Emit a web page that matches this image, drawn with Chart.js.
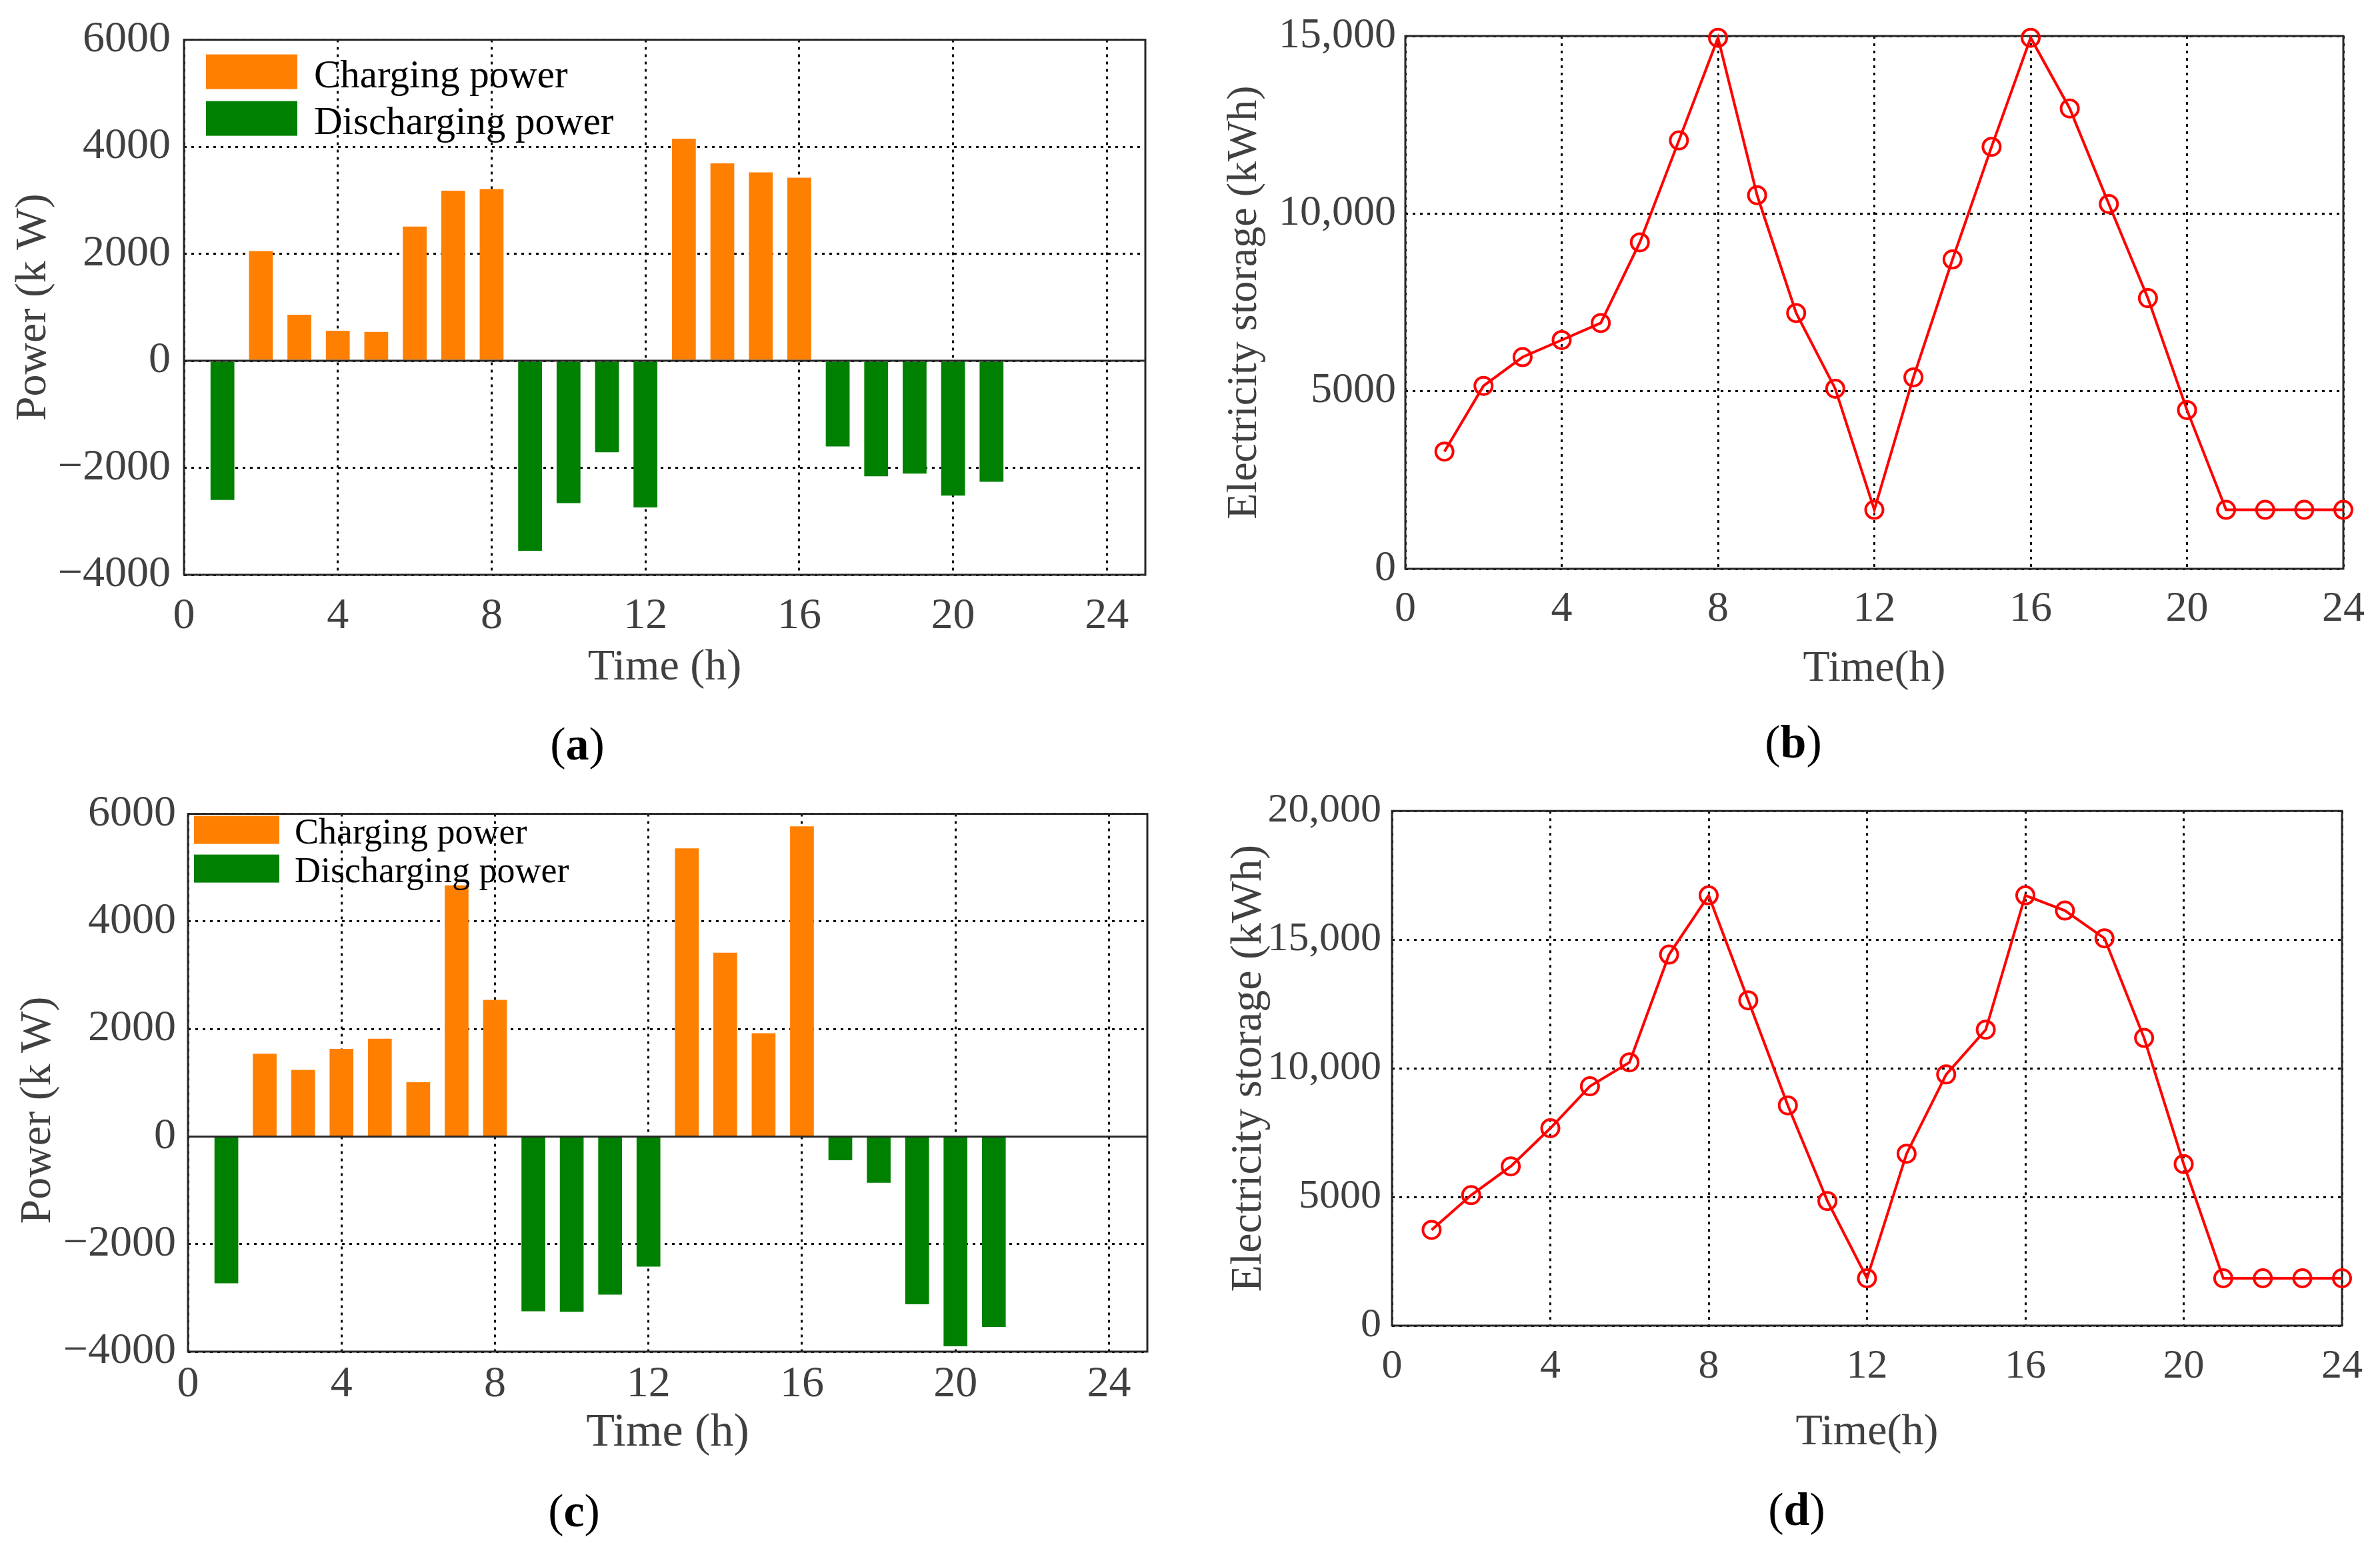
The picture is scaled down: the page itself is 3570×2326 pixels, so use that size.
<!DOCTYPE html>
<html lang="en">
<head>
  <meta charset="UTF-8" />
  <title>Charging / discharging power and electricity storage</title>
  <script src="https://cdn.jsdelivr.net/npm/chart.js"></script>
  <style>
    html, body { margin: 0; padding: 0; background: #fff; }
    body { width: 3570px; height: 2326px; position: relative; overflow: hidden; }
    .panel { position: absolute; width: 1785px; height: 1163px; }
    .caption {
      position: absolute;
      font-family: 'Liberation Serif', 'Times New Roman', serif;
      font-size: 70px;
      color: #000;
      transform: translate(-50%, -50%);
      white-space: nowrap;
    }
  </style>
</head>
<body>
<div class="panel" style="left:0;top:0"><canvas id="chartA"></canvas></div>
<div class="panel" style="left:1785px;top:0"><canvas id="chartB"></canvas></div>
<div class="panel" style="left:0;top:1163px"><canvas id="chartC"></canvas></div>
<div class="panel" style="left:1785px;top:1163px"><canvas id="chartD"></canvas></div>

<div class="caption" style="left:866px;top:1116px">(<b>a</b>)</div>
<div class="caption" style="left:2690px;top:1113px">(<b>b</b>)</div>
<div class="caption" style="left:861px;top:2266px">(<b>c</b>)</div>
<div class="caption" style="left:2695px;top:2264px">(<b>d</b>)</div>

<script>
  // dados (kW e kWh, hora a hora)
  const hours = [1, 2, 3, 4, 5, 6, 7, 8, 9, 10, 11, 12, 13, 14, 15, 16, 17, 18, 19, 20, 21, 22, 23, 24];
  const hourTicks = [0, 4, 8, 12, 16, 20, 24];
  const hourTickLabels = ['0', '4', '8', '12', '16', '20', '24'];

  const powerTicks = [-4000, -2000, 0, 2000, 4000, 6000];
  const powerTickLabels = ['\u22124000', '\u22122000', '0', '2000', '4000', '6000'];

  const storageTicksB = [0, 5000, 10000, 15000];
  const storageTickLabelsB = ['0', '5000', '10,000', '15,000'];
  const storageTicksD = [0, 5000, 10000, 15000, 20000];
  const storageTickLabelsD = ['0', '5000', '10,000', '15,000', '20,000'];

  const chargingA = [null, 2050, 860, 560, 540, 2510, 3180, 3210, null, null, null, null,
                     4150, 3690, 3520, 3420, null, null, null, null, null, null, null, null];
  const dischargingA = [-2600, null, null, null, null, null, null, null, -3550, -2660, -1710, -2740,
                        null, null, null, null, -1600, -2160, -2110, -2520, -2260, null, null, null];
  const storageB = [3300, 5150, 5960, 6440, 6920, 9190, 12060, 14950, 10520, 7200, 5070, 1660,
                    5390, 8710, 11880, 14950, 12960, 10270, 7620, 4470, 1660, 1660, 1660, 1660];

  const chargingC = [null, 1540, 1240, 1630, 1820, 1010, 4670, 2540, null, null, null, null,
                     5360, 3420, 1920, 5770, null, null, null, null, null, null, null, null];
  const dischargingC = [-2730, null, null, null, null, null, null, null, -3250, -3260, -2940, -2420,
                        null, null, null, null, -440, -860, -3120, -3900, -3540, null, null, null];
  const storageD = [3720, 5070, 6190, 7670, 9300, 10230, 14420, 16720, 12640, 8560, 4840, 1840,
                    6680, 9760, 11500, 16720, 16130, 15050, 11180, 6280, 1840, 1840, 1840, 1840];

  const FONT = "'Liberation Serif', 'Times New Roman', serif";
  const GRAY = '#404040';
  const PANEL_H = 1163;
  const XAXIS_H = 200;

  Chart.defaults.font.family = FONT;
  Chart.defaults.color = GRAY;

  // caixa em volta do gráfico + linha do zero
  const framePlugin = {
    id: 'frame',
    beforeDatasetsDraw(chart) {
      const { ctx, chartArea: a } = chart;
      ctx.save();
      ctx.strokeStyle = '#262626';
      ctx.lineWidth = 3;
      ctx.strokeRect(a.left, a.top, a.right - a.left, a.bottom - a.top);
      ctx.restore();
    },
    afterDatasetsDraw(chart, args, opts) {
      if (!opts.zeroLine) return;
      const { ctx, chartArea: a } = chart;
      const y = chart.scales.y.getPixelForValue(0);
      ctx.save();
      ctx.strokeStyle = '#262626';
      ctx.lineWidth = 3;
      ctx.beginPath();
      ctx.moveTo(a.left, y);
      ctx.lineTo(a.right, y);
      ctx.stroke();
      ctx.restore();
    }
  };

  // legenda dentro da área do gráfico, como no MATLAB
  const boxLegendPlugin = {
    id: 'boxLegend',
    afterDraw(chart, args, o) {
      if (!o.show) return;
      const { ctx, chartArea: a } = chart;
      ctx.save();
      ctx.font = o.size + 'px ' + FONT;
      ctx.textBaseline = 'alphabetic';
      ctx.textAlign = 'left';
      chart.data.datasets.forEach((ds, i) => {
        const x = a.left + o.x;
        const y = a.top + o.y + i * o.step;
        ctx.fillStyle = ds.backgroundColor;
        ctx.fillRect(x, y, o.boxW, o.boxH);
        ctx.fillStyle = '#000';
        ctx.fillText(ds.label, x + o.boxW + o.gap, y + o.boxH + o.baseline);
      });
      ctx.restore();
    }
  };

  function makeOptions(p) {
    return {
      responsive: true,
      maintainAspectRatio: false,
      animation: false,
      layout: {
        padding: { left: 0, top: p.top, right: 1785 - p.right, bottom: PANEL_H - p.bottom - XAXIS_H }
      },
      plugins: {
        legend: { display: false },
        tooltip: { enabled: false },
        frame: { zeroLine: p.zeroLine },
        boxLegend: p.legend || { show: false }
      },
      scales: {
        x: {
          type: 'linear',
          min: 0,
          max: p.xMax,
          offset: false,
          afterBuildTicks: axis => { axis.ticks = hourTicks.map(v => ({ value: v })); },
          afterFit: axis => { axis.height = XAXIS_H; },
          grid: { offset: false, color: '#000', lineWidth: 3, drawTicks: false },
          border: { display: false, dash: [4, 7] },
          ticks: {
            autoSkip: false,
            maxRotation: 0,
            padding: p.xTickPad,
            font: { family: FONT, size: p.tickSize },
            color: GRAY,
            callback: (v, i) => hourTickLabels[i]
          },
          title: {
            display: true,
            text: p.xTitle,
            color: GRAY,
            font: { family: FONT, size: p.xTitleSize },
            padding: { top: 0, bottom: p.xTitlePad }
          }
        },
        y: {
          min: p.yTicks[0],
          max: p.yTicks[p.yTicks.length - 1],
          afterBuildTicks: axis => { axis.ticks = p.yTicks.map(v => ({ value: v })); },
          afterFit: axis => { axis.width = p.left; },
          grid: { color: '#000', lineWidth: 3, drawTicks: false },
          border: { display: false, dash: [4, 7] },
          ticks: {
            autoSkip: false,
            padding: p.yTickPad,
            font: { family: FONT, size: p.tickSize },
            color: GRAY,
            callback: (v, i) => p.yLabels[i]
          },
          title: {
            display: true,
            text: p.yTitle,
            color: GRAY,
            font: { family: FONT, size: p.yTitleSize },
            padding: { top: p.yTitlePad, bottom: 0 }
          }
        }
      }
    };
  }

  function barChart(id, charging, discharging, p) {
    new Chart(document.getElementById(id), {
      type: 'bar',
      data: {
        labels: hours,
        datasets: [
          { label: 'Charging power', data: charging, backgroundColor: '#ff8000',
            barPercentage: 0.62, categoryPercentage: 1, grouped: false },
          { label: 'Discharging power', data: discharging, backgroundColor: '#008000',
            barPercentage: 0.62, categoryPercentage: 1, grouped: false }
        ]
      },
      options: makeOptions(p),
      plugins: [framePlugin, boxLegendPlugin]
    });
  }

  function lineChart(id, storage, p) {
    new Chart(document.getElementById(id), {
      type: 'line',
      data: {
        labels: hours,
        datasets: [{
          label: 'Electricity storage',
          data: storage,
          borderColor: '#ff0000',
          borderWidth: 4,
          tension: 0,
          pointRadius: 13,
          pointBorderWidth: 4,
          pointBorderColor: '#ff0000',
          pointBackgroundColor: 'rgba(0,0,0,0)',
          clip: false
        }]
      },
      options: makeOptions(p),
      plugins: [framePlugin]
    });
  }

  barChart('chartA', chargingA, dischargingA, {
    left: 276, right: 1718, top: 53, bottom: 862, xMax: 25,
    yTicks: powerTicks, yLabels: powerTickLabels, zeroLine: true,
    tickSize: 66, xTickPad: 23, yTickPad: 20,
    xTitle: 'Time (h)', xTitleSize: 66, xTitlePad: 21,
    yTitle: 'Power (k W)', yTitleSize: 66, yTitlePad: 11,
    legend: { show: true, x: 33, y: 22, boxW: 137, boxH: 52, step: 70, gap: 25, size: 59, baseline: -3 }
  });

  lineChart('chartB', storageB, {
    left: 323, right: 1731, top: 54, bottom: 853, xMax: 24,
    yTicks: storageTicksB, yLabels: storageTickLabelsB, zeroLine: false,
    tickSize: 64, xTickPad: 23, yTickPad: 14,
    xTitle: 'Time(h)', xTitleSize: 66, xTitlePad: 10,
    yTitle: 'Electricity storage (kWh)', yTitleSize: 64, yTitlePad: 44
  });

  barChart('chartC', chargingC, dischargingC, {
    left: 282, right: 1721, top: 40, bottom: 864, xMax: 25,
    yTicks: powerTicks, yLabels: powerTickLabels, zeroLine: true,
    tickSize: 66, xTickPad: 10, yTickPad: 18,
    xTitle: 'Time (h)', xTitleSize: 70, xTitlePad: 35,
    yTitle: 'Power (k W)     ', yTitleSize: 66, yTitlePad: 18,
    legend: { show: true, x: 9, y: 3, boxW: 128, boxH: 42, step: 58, gap: 23, size: 54, baseline: -1 }
  });

  lineChart('chartD', storageD, {
    left: 303, right: 1728, top: 43, bottom: 825, xMax: 24,
    yTicks: storageTicksD, yLabels: storageTickLabelsD, zeroLine: false,
    tickSize: 62, xTickPad: 25, yTickPad: 16,
    xTitle: 'Time(h)', xTitleSize: 66, xTitlePad: 0,
    yTitle: 'Electricity storage (kWh)', yTitleSize: 66, yTitlePad: 49
  });
</script>
</body>
</html>
